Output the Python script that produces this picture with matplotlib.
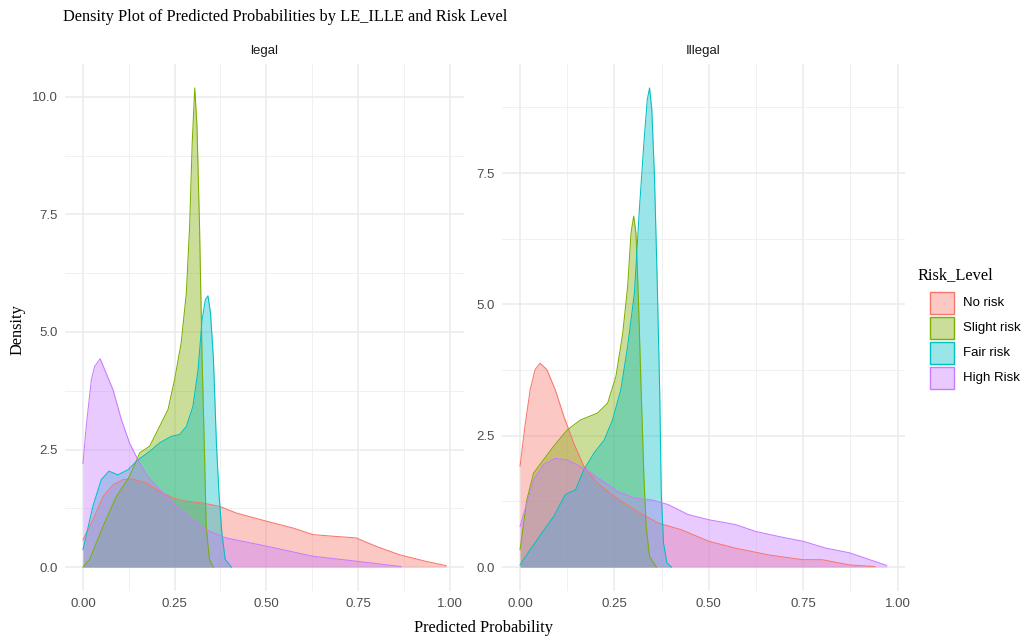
import matplotlib.pyplot as plt
from matplotlib.patches import Rectangle

# Risk levels and ggplot default hue colours
risk_levels = ["No risk", "Slight risk", "Fair risk", "High Risk"]
risk_colors = ["#F8766D", "#7CAE00", "#00BFC4", "#C77CFF"]

# ---- legal panel: density curves (x = predicted probability, y = density)
legal_no_x = [0.0, 0.027, 0.055, 0.082, 0.109, 0.136, 0.173, 0.209, 0.245, 0.282, 0.327,
              0.373, 0.418, 0.503, 0.573, 0.627, 0.691, 0.745, 0.8, 0.864, 0.936, 0.991]
legal_no_y = [0.58, 1.0, 1.5, 1.75, 1.86, 1.87, 1.79, 1.61, 1.47, 1.4, 1.36,
              1.29, 1.15, 0.97, 0.83, 0.69, 0.65, 0.62, 0.44, 0.26, 0.12, 0.03]

legal_slight_x = [0.0, 0.018, 0.055, 0.091, 0.127, 0.155, 0.182, 0.209, 0.232, 0.25, 0.268,
                  0.282, 0.291, 0.298, 0.305, 0.311, 0.318, 0.325, 0.332, 0.336, 0.345, 0.356]
legal_slight_y = [0.0, 0.16, 0.87, 1.5, 1.93, 2.43, 2.57, 2.99, 3.35, 3.99, 4.77,
                  5.83, 7.25, 9.02, 10.19, 9.38, 7.25, 4.41, 2.28, 0.87, 0.16, 0.0]

legal_fair_x = [0.0, 0.027, 0.05, 0.071, 0.095, 0.123, 0.15, 0.182, 0.209, 0.241, 0.264, 0.282,
                0.3, 0.314, 0.325, 0.334, 0.341, 0.348, 0.356, 0.364, 0.371, 0.379, 0.388, 0.405]
legal_fair_y = [0.37, 1.29, 1.86, 2.04, 1.96, 2.07, 2.28, 2.46, 2.64, 2.78, 2.82, 2.99,
                3.42, 4.2, 5.26, 5.69, 5.77, 5.4, 4.41, 2.64, 1.57, 0.72, 0.16, 0.0]

legal_high_x = [0.0, 0.009, 0.023, 0.032, 0.047, 0.082, 0.105, 0.127, 0.15, 0.173, 0.209,
                0.245, 0.3, 0.336, 0.39, 0.503, 0.627, 0.75, 0.868]
legal_high_y = [2.2, 3.0, 3.99, 4.27, 4.43, 3.77, 3.13, 2.64, 2.28, 1.96, 1.65,
                1.36, 1.0, 0.79, 0.62, 0.44, 0.23, 0.12, 0.01]

# ---- Illegal panel
illegal_no_x = [0.0, 0.013, 0.027, 0.04, 0.053, 0.071, 0.093, 0.116, 0.142, 0.169, 0.205,
                0.249, 0.303, 0.365, 0.427, 0.5, 0.57, 0.659, 0.748, 0.8, 0.873, 0.94]
illegal_no_y = [1.92, 2.68, 3.38, 3.76, 3.88, 3.76, 3.38, 2.87, 2.36, 1.92, 1.6,
                1.35, 1.09, 0.84, 0.71, 0.49, 0.36, 0.23, 0.14, 0.14, 0.04, 0.01]

illegal_slight_x = [0.0, 0.018, 0.036, 0.062, 0.089, 0.125, 0.16, 0.205, 0.232, 0.254, 0.272,
                    0.285, 0.294, 0.301, 0.307, 0.313, 0.321, 0.328, 0.334, 0.343, 0.361]
illegal_slight_y = [0.33, 1.28, 1.79, 2.04, 2.3, 2.61, 2.8, 2.93, 3.12, 3.63, 4.45,
                    5.34, 6.36, 6.68, 6.36, 5.22, 3.31, 1.73, 0.77, 0.2, 0.0]

illegal_fair_x = [0.0, 0.027, 0.058, 0.089, 0.12, 0.147, 0.169, 0.196, 0.223, 0.245, 0.267, 0.285,
                  0.303, 0.316, 0.328, 0.337, 0.343, 0.349, 0.356, 0.363, 0.37, 0.374, 0.38,
                  0.389, 0.401]
illegal_fair_y = [0.04, 0.33, 0.65, 0.96, 1.38, 1.47, 1.85, 2.17, 2.42, 2.8, 3.38, 4.2,
                  5.22, 6.8, 8.07, 8.9, 9.12, 8.71, 7.44, 5.53, 3.31, 1.41, 0.46,
                  0.08, 0.0]

illegal_high_x = [0.0, 0.018, 0.036, 0.062, 0.093, 0.125, 0.169, 0.214, 0.258, 0.303, 0.347,
                  0.392, 0.445, 0.5, 0.57, 0.623, 0.686, 0.75, 0.81, 0.873, 0.926, 0.971]
illegal_high_y = [0.77, 1.22, 1.66, 1.95, 2.07, 2.04, 1.88, 1.66, 1.44, 1.31, 1.28,
                  1.19, 1.0, 0.9, 0.81, 0.68, 0.58, 0.49, 0.36, 0.27, 0.14, 0.03]

panels = [
    ("legal", [(legal_no_x, legal_no_y), (legal_slight_x, legal_slight_y),
               (legal_fair_x, legal_fair_y), (legal_high_x, legal_high_y)],
     [0, 2.5, 5.0, 7.5, 10.0], ["0.0", "2.5", "5.0", "7.5", "10.0"]),
    ("Illegal", [(illegal_no_x, illegal_no_y), (illegal_slight_x, illegal_slight_y),
                 (illegal_fair_x, illegal_fair_y), (illegal_high_x, illegal_high_y)],
     [0, 2.5, 5.0, 7.5], ["0.0", "2.5", "5.0", "7.5"]),
]
x_ticks = [0, 0.25, 0.5, 0.75, 1.0]
x_tick_labels = ["0.00", "0.25", "0.50", "0.75", "1.00"]

W, H = 1033, 641
fig = plt.figure(figsize=(W / 100, H / 100), dpi=100)
sans = "Liberation Sans"
serif = "Liberation Serif"

# panel rectangles in pixels: left, right, top, bottom
boxes = [(64.8, 464.4, 64, 591), (501.7, 905, 64, 591)]

for (name, curves, yt, ytl), (l, r, t, b) in zip(panels, boxes):
    ax = fig.add_axes([l / W, 1 - b / H, (r - l) / W, (b - t) / H])
    ymax = max(max(c[1]) for c in curves)
    xmax = max(max(c[0]) for c in curves)
    ax.set_xlim(-0.05 * xmax, xmax * 1.05)
    ax.set_ylim(-0.05 * ymax, ymax * 1.05)
    for (xs, ys), col in zip(curves, risk_colors):
        ax.fill_between(xs, 0, ys, color=col, alpha=0.4, linewidth=0, zorder=2)
        ax.plot(xs, ys, color=col, linewidth=0.75, zorder=3)
    # minor + major grid like theme_minimal
    for v in [0.125, 0.375, 0.625, 0.875]:
        ax.axvline(v, color="#F0F0F0", linewidth=0.7, zorder=0)
    for v in x_ticks:
        ax.axvline(v, color="#EBEBEB", linewidth=1.1, zorder=0)
    for v in [1.25, 3.75, 6.25, 8.75]:
        ax.axhline(v, color="#F0F0F0", linewidth=0.7, zorder=0)
    for v in yt:
        ax.axhline(v, color="#EBEBEB", linewidth=1.1, zorder=0)
    ax.set_xticks(x_ticks)
    ax.set_xticklabels(x_tick_labels, fontsize=9.5, color="#4D4D4D", family=sans)
    ax.set_yticks(yt)
    ax.set_yticklabels(ytl, fontsize=9.5, color="#4D4D4D", family=sans)
    ax.tick_params(length=0, pad=5)
    for s in ax.spines.values():
        s.set_visible(False)
    ax.set_title(name, fontsize=9.5, color="#1A1A1A", family=sans, pad=7)

fig.text(63 / W, 1 - 17 / H, "Density Plot of Predicted Probabilities by LE_ILLE and Risk Level",
         fontsize=11.8, family=serif, ha="left", va="center", color="black")
fig.text(484 / W, 1 - 628 / H, "Predicted Probability", fontsize=11.8, family=serif,
         ha="center", va="center")
fig.text(17 / W, 1 - 330 / H, "Density", fontsize=11.8, family=serif, rotation=90,
         ha="center", va="center")

# legend
fig.text(918 / W, 1 - 275 / H, "Risk_Level", fontsize=11.8, family=serif,
         ha="left", va="center")
for i, (lab, col) in enumerate(zip(risk_levels, risk_colors)):
    top = 292 + 25 * i
    fig.add_artist(Rectangle((930 / W, 1 - (top + 22) / H), 24 / W, 22 / H,
                             transform=fig.transFigure, facecolor=col, alpha=0.4,
                             edgecolor="none"))
    fig.add_artist(Rectangle((930 / W, 1 - (top + 22) / H), 24 / W, 22 / H,
                             transform=fig.transFigure, facecolor="none",
                             edgecolor=col, linewidth=1.0))
    fig.text(963 / W, 1 - (top + 11) / H, lab, fontsize=9.5, family=sans,
             ha="left", va="center", color="black")

fig.savefig("out.png", dpi=100, facecolor="white")
